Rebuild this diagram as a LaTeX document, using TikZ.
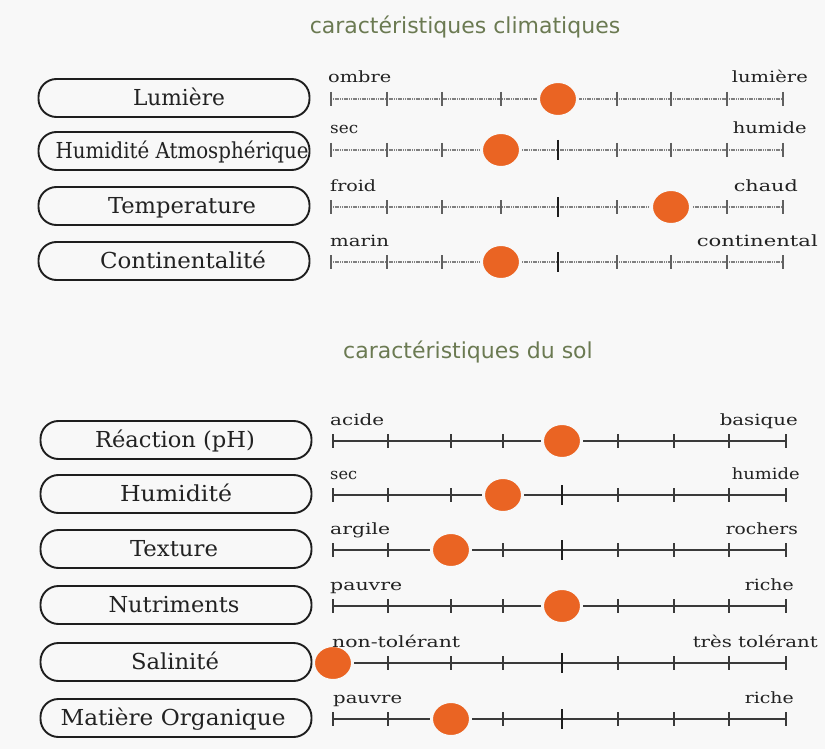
\documentclass[tikz,border=0pt]{standalone}
\usepackage{fontspec}
\setmainfont{DejaVu Serif}
\newfontfamily\titlefont{DejaVu Sans}
\usepackage{graphicx}
\usetikzlibrary{shapes.geometric}
\definecolor{bgc}{HTML}{F8F8F8}
\definecolor{dotc}{HTML}{EA6423}
\definecolor{titc}{HTML}{6B7A52}
\definecolor{txtc}{HTML}{222222}
\definecolor{boxc}{HTML}{1E1E1E}
\definecolor{clinec}{HTML}{808080}
\definecolor{slinec}{HTML}{3A3A3A}
\newsavebox\fitbx
\newcommand\fitw[2]{\sbox\fitbx{#2}\pgfmathsetmacro\fitfac{#1/\the\wd\fitbx}\scalebox{\fitfac}[1]{\usebox\fitbx}}
\tikzset{
  lbox/.style={draw=boxc, line width=1.9pt, rounded corners=18pt, minimum width=271pt, minimum height=38pt, inner sep=0pt},
  boxlab/.style={anchor=base, inner sep=0pt, text=txtc, font=\fontsize{22}{26}\selectfont},
  sclabl/.style={anchor=base west, inner sep=0pt, text=txtc, font=\fontsize{15.5}{18}\selectfont},
  sclabr/.style={anchor=base east, inner sep=0pt, text=txtc, font=\fontsize{15.5}{18}\selectfont},
  titlab/.style={inner sep=0pt, text=titc, font=\titlefont\fontsize{22}{26}\selectfont},
  cline/.style={draw=clinec, line width=1.5pt, dash pattern=on 1.2pt off 0.6pt},
  csmall/.style={draw=clinec!75!black, line width=1.3pt},
  cbig/.style={draw=boxc, line width=1.9pt},
  sline/.style={draw=slinec, line width=1.6pt},
  ssmall/.style={draw=slinec, line width=1.5pt},
  sbig/.style={draw=boxc, line width=2pt},
  dot/.style={ellipse, fill=dotc, draw=bgc, line width=3pt, minimum width=39pt, minimum height=35pt, inner sep=0pt}
}
\def\ctk{331,387,442,501,558,617,671,727,783}
\def\stk{333,388,451,503,562,618,674,729,786}
\begin{document}
\begin{tikzpicture}[x=1pt,y=-1pt]
\useasboundingbox (0,0) rectangle (825,749);
\fill[bgc] (0,0) rectangle (825,749);

% titles
\node[titlab] (tc) at (465,27) {caractéristiques climatiques};
\node[titlab] (ts) at (468,352) {caractéristiques du sol};

% climate scales
\foreach \y/\d [count=\i] in {99/5,150/4,207/7,262/4}{
  \draw[cline] (331,\y) -- (783,\y);
  \foreach \tx [count=\k] in \ctk {
    \ifnum\k=5 \draw[cbig] (\tx,\y-10) -- (\tx,\y+10);
    \else \draw[csmall] (\tx,\y-7) -- (\tx,\y+7); \fi
  }
  \foreach \tx [count=\k] in \ctk {
    \ifnum\k=\d \node[dot] (cd\i) at (\tx,\y) {}; \fi
  }
}

% soil scales
\foreach \y/\d [count=\i] in {441/5,495/4,550/3,606/5,663/1,719/3}{
  \draw[sline] (333,\y) -- (786,\y);
  \foreach \tx [count=\k] in \stk {
    \ifnum\k=5 \draw[sbig] (\tx,\y-10) -- (\tx,\y+10);
    \else \draw[ssmall] (\tx,\y-7) -- (\tx,\y+7); \fi
  }
  \foreach \tx [count=\k] in \stk {
    \ifnum\k=\d \node[dot] (sd\i) at (\tx,\y) {}; \fi
  }
}

% climate boxes
\node[lbox] (b1) at (174,98) {};
\node[lbox] (b2) at (174,151) {};
\node[lbox] (b3) at (174,206) {};
\node[lbox] (b4) at (174,261) {};
\node[boxlab] (l1) at (179,105.5) {\fitw{92}{Lumière}};
\node[boxlab] (l2) at (182,158.5) {\fitw{253}{Humidité Atmosphérique}};
\node[boxlab] (l3) at (182,213.5) {\fitw{148}{Temperature}};
\node[boxlab] (l4) at (183,268.5) {\fitw{166}{Continentalité}};

% soil boxes
\node[lbox] (b5) at (176,440) {};
\node[lbox] (b6) at (176,494) {};
\node[lbox] (b7) at (176,549) {};
\node[lbox] (b8) at (176,605) {};
\node[lbox] (b9) at (176,662) {};
\node[lbox] (b10) at (176,718) {};
\node[boxlab] (l5) at (175,447.5) {\fitw{160}{Réaction (pH)}};
\node[boxlab] (l6) at (176,501.5) {\fitw{112}{Humidité}};
\node[boxlab] (l7) at (174,556.5) {\fitw{88}{Texture}};
\node[boxlab] (l8) at (174,612.5) {\fitw{131}{Nutriments}};
\node[boxlab] (l9) at (175,669.5) {\fitw{88}{Salinité}};
\node[boxlab] (l10) at (173,725.5) {\fitw{225}{Matière Organique}};

% climate scale labels
\node[sclabl] (a1) at (328,83) {\fitw{63}{ombre}};
\node[sclabr] (z1) at (808,83) {\fitw{76}{lumière}};
\node[sclabl] (a2) at (330,134) {\fitw{28}{sec}};
\node[sclabr] (z2) at (807,134) {\fitw{74}{humide}};
\node[sclabl] (a3) at (330,191) {\fitw{46}{froid}};
\node[sclabr] (z3) at (798,191) {\fitw{64}{chaud}};
\node[sclabl] (a4) at (330,246) {\fitw{59}{marin}};
\node[sclabr] (z4) at (818,246) {\fitw{121}{continental}};

% soil scale labels
\node[sclabl] (a5) at (330,425) {\fitw{54}{acide}};
\node[sclabr] (z5) at (798,425) {\fitw{78}{basique}};
\node[sclabl] (a6) at (330,479) {\fitw{27}{sec}};
\node[sclabr] (z6) at (800,479) {\fitw{68}{humide}};
\node[sclabl] (a7) at (330,534) {\fitw{60}{argile}};
\node[sclabr] (z7) at (798,534) {\fitw{72}{rochers}};
\node[sclabl] (a8) at (330,590) {\fitw{72}{pauvre}};
\node[sclabr] (z8) at (794,590) {\fitw{49}{riche}};
\node[sclabl] (a9) at (332,647) {\fitw{128}{non-tolérant}};
\node[sclabr] (z9) at (818,647) {\fitw{125}{très tolérant}};
\node[sclabl] (a10) at (333,703) {\fitw{69}{pauvre}};
\node[sclabr] (z10) at (794,703) {\fitw{49}{riche}};
\end{tikzpicture}
\end{document}
